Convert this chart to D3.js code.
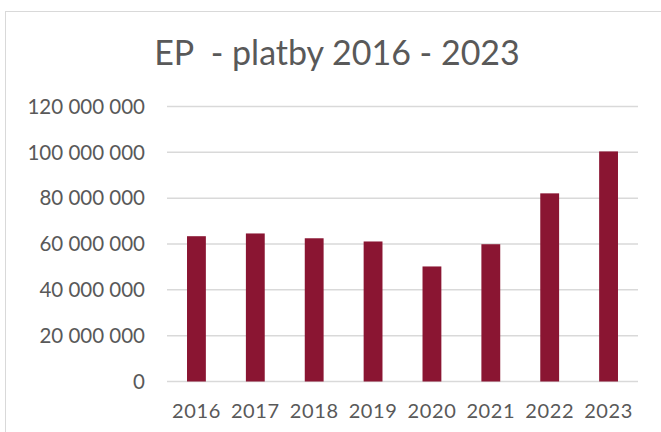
<!DOCTYPE html>
<html>
<head>
<meta charset="utf-8">
<script src="https://cdn.jsdelivr.net/npm/d3@7"></script>
<style>
  body { margin: 0; background: #fff; }
  text { font-family: Lato, "Open Sans", sans-serif; fill: #595959; }
</style>
</head>
<body>
<script>
// data
const years = ["2016", "2017", "2018", "2019", "2020", "2021", "2022", "2023"];
const payments = [63400000, 64600000, 62500000, 61100000, 50200000, 59900000, 82100000, 100400000];
const yTicks = [0, 20000000, 40000000, 60000000, 80000000, 100000000, 120000000];

const W = 661, H = 432;
const svg = d3.select("body").append("svg")
    .attr("width", W)
    .attr("height", H);

// chart frame
svg.append("rect")
    .attr("x", 5.5).attr("y", 11.5)
    .attr("width", 700).attr("height", 500)
    .attr("fill", "none")
    .attr("stroke", "#d9d9d9");

svg.append("text")
    .attr("x", 337).attr("y", 65)
    .attr("text-anchor", "middle")
    .attr("font-size", 34)
    .style("white-space", "pre")
    .text("EP  - platby 2016 - 2023");

let x = d3.scaleBand()
    .domain(years)
    .range([167, 638])
    .paddingInner(0.68)
    .paddingOuter(0.34);

let y = d3.scaleLinear()
    .domain([0, 120000000])
    .range([381.5, 106.5]);

const fmt = v => d3.format(",")(v).replace(/,/g, " ");

// gridlines
svg.append("g")
    .selectAll("line")
    .data(yTicks)
    .join("line")
    .attr("x1", 167).attr("x2", 638)
    .attr("y1", d => y(d)).attr("y2", d => y(d))
    .attr("stroke", "#d9d9d9")
    .attr("stroke-width", 1.5);

// y labels
svg.append("g")
    .selectAll("text")
    .data(yTicks)
    .join("text")
    .attr("x", 145)
    .attr("y", d => y(d))
    .attr("dy", "0.35em")
    .attr("text-anchor", "end")
    .attr("font-size", 20.5)
    .text(fmt);

// bars
svg.append("g")
    .selectAll("rect")
    .data(payments)
    .join("rect")
    .attr("x", (d, i) => x(years[i]))
    .attr("y", d => y(d))
    .attr("width", x.bandwidth())
    .attr("height", d => y(0) - y(d))
    .attr("fill", "#8a1532");

// x labels
svg.append("g")
    .selectAll("text")
    .data(years)
    .join("text")
    .attr("x", d => x(d) + x.bandwidth() / 2)
    .attr("y", 418)
    .attr("text-anchor", "middle")
    .attr("font-size", 20)
    .attr("letter-spacing", 0.6)
    .text(d => d);
</script>
</body>
</html>
